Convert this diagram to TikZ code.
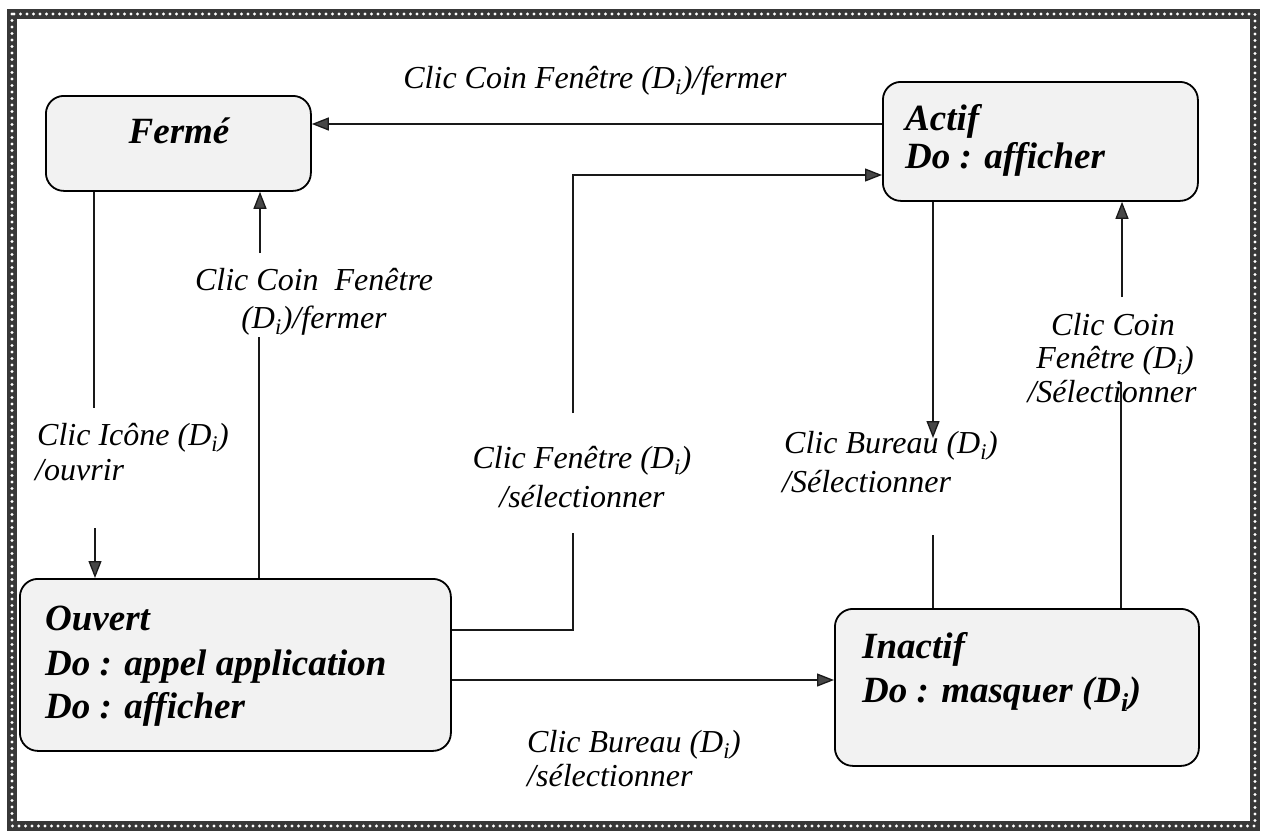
\documentclass[tikz,border=0pt]{standalone}
\usepackage{fontspec}
\setmainfont{Liberation Serif}
\usetikzlibrary{arrows.meta}
\begin{document}
\begin{tikzpicture}[x=1pt,y=-1pt,
  statebox/.style={draw=black, line width=1.8pt, fill=black!5, rounded corners=18pt, inner sep=0pt, anchor=north west},
  statetext/.style={font=\fontsize{37}{44}\selectfont\bfseries\itshape, inner sep=0pt, anchor=base west},
  lbl/.style={font=\fontsize{32}{35}\selectfont\itshape, inner sep=0pt, anchor=base},
  lblw/.style={lbl, anchor=base west},
  link/.style={line width=1.3pt, black!90},
  arr/.style={link, -{Triangle[length=17pt,width=13pt,fill=black!72]}},
  framebase/.style={line width=10pt, black!78},
  framedots/.style={line width=3.2pt, white, dash pattern=on 0pt off 6.5pt, line cap=round},
]
\useasboundingbox (0,0) rectangle (1268,835);

% decorative border
\draw[framebase] (12,14) rectangle (1255,826);
\draw[framedots] (12,14) rectangle (1255,826);

% states
\node[statebox, minimum width=265pt, minimum height=95pt] (ferme) at (45,95) {};
\node[statebox, minimum width=315pt, minimum height=119pt] (actif) at (882,81) {};
\node[statebox, minimum width=431pt, minimum height=172pt] (ouvert) at (19,578) {};
\node[statebox, minimum width=364pt, minimum height=157pt] (inactif) at (834,608) {};

\node[statetext, anchor=base] (fermeT) at (179,143) {Fermé};
\node[statetext] (actifA) at (905,130) {Actif};
\node[statetext] (actifB) at (905,168) {Do : afficher};
\node[statetext] (ouvertA) at (45,630) {Ouvert};
\node[statetext] (ouvertB) at (45,675) {Do : appel application};
\node[statetext] (ouvertC) at (45,718) {Do : afficher};
\node[statetext] (inactifA) at (862,658) {Inactif};
\node[statetext] (inactifB) at (862,702) {Do : masquer (D\textsubscript{i})};

% bends and gaps of the transitions
\coordinate (selLow) at (573,630);
\coordinate (selGapB) at (573,533);
\coordinate (selGapT) at (573,413);
\coordinate (selHigh) at (573,175);
\coordinate (ouvGapT) at (94,408);
\coordinate (ouvGapB) at (95,528);
\coordinate (ferGapB) at (259,337);
\coordinate (ferGapT) at (260,253);
\coordinate (burTip) at (933,438);
\coordinate (burGap) at (933,535);
\coordinate (coinGapB) at (1121,382);
\coordinate (coinGapT) at (1122,297);

% Actif -> Fermé
\draw[arr] (actif.west |- 0,124) -- (ferme.east |- 0,124);
% Ouvert -> Actif
\draw[link] (ouvert.east |- selLow) -- (selLow) -- (selGapB);
\draw[arr] (selGapT) -- (selHigh) -- (actif.west |- selHigh);
% Ouvert -> Inactif
\draw[arr] (ouvert.east |- 0,680) -- (inactif.west |- 0,680);
% Fermé -> Ouvert
\draw[link] (ferme.south -| ouvGapT) -- (ouvGapT);
\draw[arr] (ouvGapB) -- (ouvert.north -| ouvGapB);
% Ouvert -> Fermé
\draw[link] (ouvert.north -| ferGapB) -- (ferGapB);
\draw[arr] (ferGapT) -- (ferme.south -| ferGapT);
% Actif -> Inactif
\draw[arr] (actif.south -| burTip) -- (burTip);
\draw[link] (burGap) -- (inactif.north -| burGap);
% Inactif -> Actif
\draw[link] (inactif.north -| coinGapB) -- (coinGapB);
\draw[arr] (coinGapT) -- (actif.south -| coinGapT);

% transition labels
\node[lbl] (lFermerTop) at (595,88) {Clic Coin Fenêtre (D\textsubscript{i})/fermer};
\node[lbl] (lFermerA) at (314,290) {Clic Coin \ Fenêtre};
\node[lbl] (lFermerB) at (314,328) {(D\textsubscript{i})/fermer};
\node[lblw] (lOuvrirA) at (37,445) {Clic Icône (D\textsubscript{i})};
\node[lblw] (lOuvrirB) at (35,480) {/ouvrir};
\node[lbl] (lFenA) at (582,468) {Clic Fenêtre (D\textsubscript{i})};
\node[lbl] (lFenB) at (582,507) {/sélectionner};
\node[lblw] (lBurA) at (784,453) {Clic Bureau (D\textsubscript{i})};
\node[lblw] (lBurB) at (782,492) {/Sélectionner};
\node[lbl] (lCoinA) at (1113,335) {Clic Coin};
\node[lbl] (lCoinB) at (1115,368) {Fenêtre (D\textsubscript{i})};
\node[lbl] (lCoinC) at (1112,402) {/Sélectionner};
\node[lblw] (lBasA) at (527,752) {Clic Bureau (D\textsubscript{i})};
\node[lblw] (lBasB) at (527,786) {/sélectionner};
\end{tikzpicture}
\end{document}
